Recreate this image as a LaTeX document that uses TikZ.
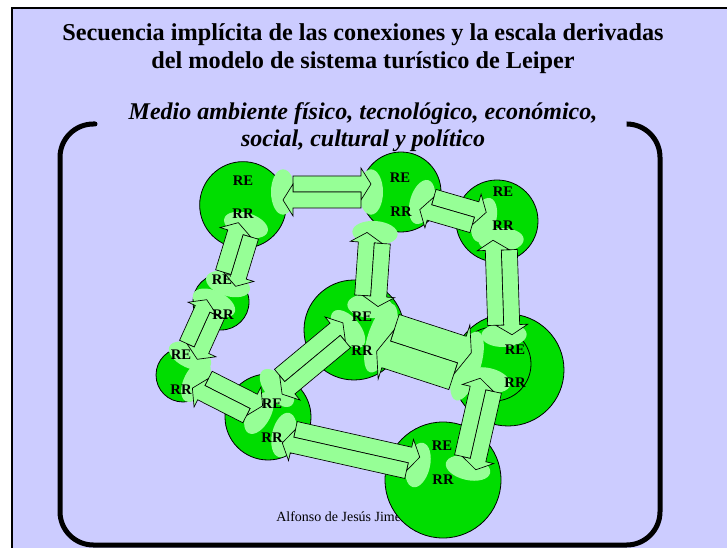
\documentclass[tikz,border=0pt]{standalone}
\usepackage{fontspec}
\setmainfont{Liberation Serif}
\usetikzlibrary{calc,positioning,shapes.geometric}

\definecolor{lavanda}{RGB}{204,204,255}
\definecolor{verde}{RGB}{0,221,0}
\definecolor{verdeclaro}{RGB}{150,255,150}

% medidas de las flechas de bloque
\newcommand{\largocab}{7.5pt}
\newcommand{\anchof}{12pt}
\newcommand{\mitadf}{6pt}
\newcommand{\anchocab}{18pt}
\newcommand{\extcab}{6pt}

% una flecha de bloque, pegada a la izquierda de su sentido
\newcommand{\flecha}[2]{%
  \filldraw[flechabloque]
    ($(#1)!\largocab!(#2)$)
    -- ($(#1)!\largocab!(#2)!\anchof!90:(#2)$)
    -- ($(#2)!\largocab!(#1)!\anchof!270:(#1)$)
    -- ($(#2)!\largocab!(#1)!\anchocab!270:(#1)$)
    -- ($(#2)!\mitadf!270:(#1)$)
    -- ($(#2)!\largocab!(#1)!\extcab!90:(#1)$)
    -- ($(#2)!\largocab!(#1)$)
    -- cycle;}
\newcommand{\dobleflecha}[2]{\flecha{#1}{#2}\flecha{#2}{#1}}

\begin{document}
\begin{tikzpicture}[x=0.75pt, y=-0.75pt,
    esfera/.style={circle, draw=black, line width=0.6pt, fill=verde, inner sep=0pt},
    halo/.style={ellipse, fill=verdeclaro, inner sep=0pt, minimum width=18pt, minimum height=34pt},
    halogrande/.style={halo, minimum width=20pt, minimum height=54pt},
    etiq/.style={font=\bfseries\fontsize{11}{12}\selectfont, inner sep=0pt},
    flechabloque/.style={fill=verdeclaro, draw=black, line width=0.5pt, line join=miter},
    titulo/.style={font=\bfseries\fontsize{18.2}{21}\selectfont, align=center},
    subtitulo/.style={font=\bfseries\itshape\fontsize{18}{20.3}\selectfont, align=center},
    autor/.style={font=\fontsize{10.5}{12}\selectfont, inner sep=0pt},
    corchete/.style={line width=3.75pt, line cap=round, rounded corners=25pt}
  ]
  % fondo de la diapositiva
  \useasboundingbox (0,0) rectangle (727,548);
  \fill[white] (0,0) rectangle (727,548);
  \fill[lavanda] (12,8) rectangle (727,548);
  \draw[line width=1.5pt] (12,548) -- (12,8) -- (727,8);

  % textos
  \node[titulo] (titulo) at (363,49)
    {Secuencia implícita de las conexiones y la escala derivadas\\del modelo de sistema turístico de Leiper};
  \node[subtitulo] (medio) at (363,127)
    {Medio ambiente físico, tecnológico, económico,\\social, cultural y político};
  \node[autor, anchor=west] (autor) at (276,517) {Alfonso de Jesús Jiménez};

  \draw[corchete] (95,124) -- (60,124) -- (60,545) -- (660,545) -- (660,124) -- (627,124);

  % regiones
  \node[esfera, minimum size=65pt] (c1) at (243,205) {};
  \node[esfera, minimum size=60pt] (c2) at (401,192) {};
  \node[esfera, minimum size=61.5pt] (c3) at (497,221) {};
  \node[esfera, minimum size=42pt] (c4) at (221,302) {};
  \node[esfera, minimum size=40.5pt] (c5) at (183,375) {};
  \node[esfera, minimum size=75pt] (c6) at (354,330) {};
  \node[esfera, minimum size=84pt] (c7) at (508,370) {};
  \node[esfera, minimum size=55.5pt] (c7b) at (494,364) {};
  \node[esfera, minimum size=64.5pt] (c8) at (268,417) {};
  \node[esfera, minimum size=87pt] (c9) at (443,480) {};

  % halos en los extremos de las flechas
  \node[halo] (ha1) at (283,192) {};
  \node[halo] (ha2) at (371,192) {};
  \node[halo, rotate=-16] (hb1) at (422,202) {};
  \node[halo, rotate=-16] (hb2) at (484,220) {};
  \node[halo, rotate=73] (hc1) at (246,225) {};
  \node[halo, rotate=73] (hc2) at (228,284) {};
  \node[halo, rotate=65] (hd1) at (214,303) {};
  \node[halo, rotate=65] (hd2) at (190,356) {};
  \node[halo, rotate=-27] (he1) at (196,381) {};
  \node[halo, rotate=-27] (he2) at (259,413) {};
  \node[halo, rotate=40] (hf1) at (277,388) {};
  \node[halo, rotate=40] (hf2) at (348,329) {};
  \node[halo, rotate=-13] (hg1) at (284,435) {};
  \node[halo, rotate=-13] (hg2) at (418,465) {};
  \node[halo, rotate=86] (hh1) at (370,306) {};
  \node[halo, rotate=86] (hh2) at (375,233) {};
  \node[halogrande, rotate=-18] (hi1) at (381,338) {};
  \node[halogrande, rotate=-18] (hi2) at (467,366) {};
  \node[halo, rotate=92] (hj1) at (501,240) {};
  \node[halo, rotate=92] (hj2) at (504,335) {};
  \node[halo, rotate=77] (hk1) at (488,380) {};
  \node[halo, rotate=77] (hk2) at (468,468) {};

  % flechas dobles
  \dobleflecha{ha1}{ha2}
  \dobleflecha{hb1}{hb2}
  \dobleflecha{hc1}{hc2}
  \dobleflecha{hd1}{hd2}
  \dobleflecha{he1}{he2}
  \dobleflecha{hf1}{hf2}
  \dobleflecha{hg1}{hg2}
  \dobleflecha{hh1}{hh2}
  \dobleflecha{hj1}{hj2}
  \dobleflecha{hk1}{hk2}
  {\renewcommand{\anchof}{21pt}\renewcommand{\mitadf}{10.5pt}%
   \renewcommand{\anchocab}{30pt}\renewcommand{\extcab}{9pt}%
   \dobleflecha{hi1}{hi2}}

  % etiquetas
  \node[etiq] (re1) at (243,181) {RE};
  \node[etiq] (rr1) at (243,214) {RR};
  \node[etiq] (re2) at (400,178) {RE};
  \node[etiq] (rr2) at (401,212) {RR};
  \node[etiq] (re3) at (503,192) {RE};
  \node[etiq] (rr3) at (503,226) {RR};
  \node[etiq] (re4) at (222,280) {RE};
  \node[etiq] (rr4) at (223,315) {RR};
  \node[etiq] (re5) at (181,355) {RE};
  \node[etiq] (rr5) at (181,390) {RR};
  \node[etiq] (re6) at (362,317) {RE};
  \node[etiq] (rr6) at (362,351) {RR};
  \node[etiq] (re7) at (515,350) {RE};
  \node[etiq] (rr7) at (515,383) {RR};
  \node[etiq] (re8) at (272,404) {RE};
  \node[etiq] (rr8) at (272,438) {RR};
  \node[etiq] (re9) at (442,446) {RE};
  \node[etiq] (rr9) at (443,480) {RR};
\end{tikzpicture}
\end{document}
